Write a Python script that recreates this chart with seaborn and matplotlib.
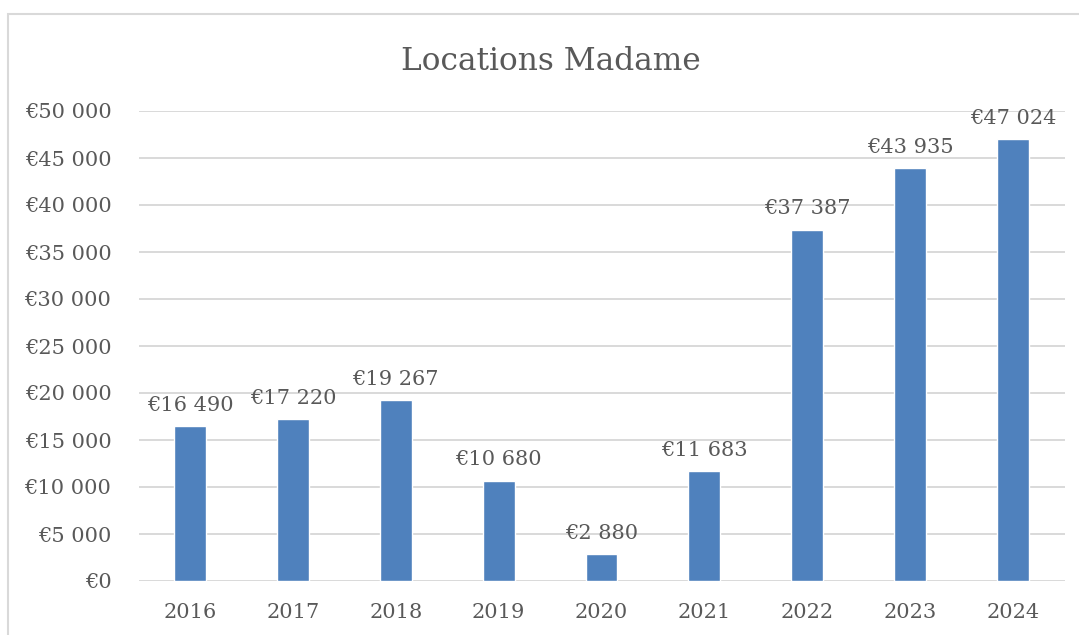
import numpy as np
import pandas as pd
import seaborn as sns
import matplotlib.pyplot as plt
from matplotlib.patches import Rectangle
from matplotlib.ticker import FuncFormatter

sns.set_style("white")
plt.rcParams['font.family'] = ['DejaVu Serif']

years = ["2016", "2017", "2018", "2019", "2020", "2021", "2022", "2023", "2024"]
revenue = [16490, 17220, 19267, 10680, 2880, 11683, 37387, 43935, 47024]

text_col = "#595959"
grid_col = "#d9d9d9"
bar_col = "#4f81bd"


def euro(v, pos=None):
    s = f"{int(round(v)):,}".replace(",", " ")
    return "€" + s


df = pd.DataFrame({"year": years, "revenue": revenue})

fig = plt.figure(figsize=(10.79, 6.35), dpi=100)
ax = fig.add_axes([138.5 / 1079, 54 / 635, 926 / 1079, 470 / 635])

# chart frame (Excel-like outer border)
fig.patches.append(Rectangle((8 / 1079, -0.1), 1.2, (635 - 14) / 635 + 0.1,
                             transform=fig.transFigure, fill=False,
                             edgecolor="#d9d9d9", linewidth=1.5))

sns.barplot(data=df, x="year", y="revenue", color=bar_col, width=0.31,
            saturation=1, ax=ax)

ax.set_ylim(0, 50000)
ax.set_yticks(np.arange(0, 50001, 5000))
ax.yaxis.set_major_formatter(FuncFormatter(euro))
ax.grid(axis="y", color=grid_col, linewidth=1.4)
ax.set_axisbelow(True)
for sp in ax.spines.values():
    sp.set_visible(False)
ax.tick_params(axis="both", length=0, labelsize=15, labelcolor=text_col)
ax.tick_params(axis="y", pad=19.5)
ax.tick_params(axis="x", pad=15.5)
ax.set_xlabel("")
ax.set_ylabel("")

ax.bar_label(ax.containers[0], labels=[euro(v) for v in revenue],
             padding=8, fontsize=15, color=text_col)

fig.text(551 / 1079, 1 - 61 / 635, "Locations Madame", ha="center", va="center",
         fontsize=22.5, color=text_col)

fig.savefig("out.png", dpi=100)
